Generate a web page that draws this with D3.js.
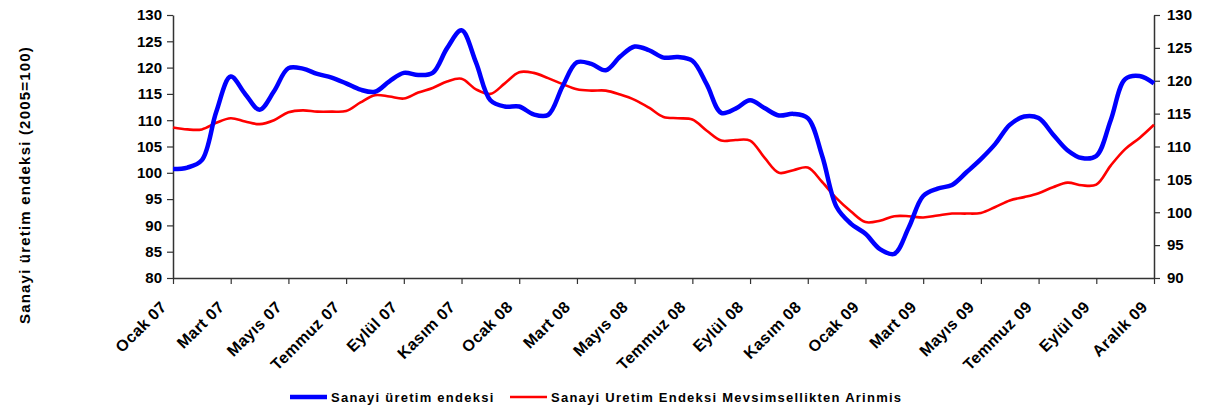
<!DOCTYPE html>
<html>
<head>
<meta charset="utf-8">
<script src="https://cdn.jsdelivr.net/npm/d3@7"></script>
<style>
  body { margin: 0; background: #fff; }
  svg { font-family: Arial, "Liberation Sans", sans-serif; font-weight: bold; }
</style>
</head>
<body>
<div id="chart"></div>
<script>
/* Chart data
 * readings are taken every half month, labels every two months
 * */
var tickLabels = ['Ocak 07', 'Mart 07', 'Mayıs 07', 'Temmuz 07', 'Eylül 07', 'Kasım 07',
                  'Ocak 08', 'Mart 08', 'Mayıs 08', 'Temmuz 08', 'Eylül 08', 'Kasım 08',
                  'Ocak 09', 'Mart 09', 'Mayıs 09', 'Temmuz 09', 'Eylül 09', 'Aralık 09'];

var seriesNames = ['Sanayi üretim endeksi', 'Sanayi Uretim Endeksi Mevsimsellikten Arinmis'];

// left axis
var uretim = [100.7, 101.0, 102.4, 111.6, 118.3, 115.0, 112.0, 115.5, 119.9, 119.8,
              118.8, 118.1, 117.0, 115.8, 115.4, 117.4, 119.0, 118.6, 119.0, 123.7,
              127.1, 121.0, 113.8, 112.6, 112.6, 111.1, 111.0, 116.4, 121.0, 120.7,
              119.5, 122.1, 124.0, 123.3, 121.9, 122.0, 121.3, 116.8, 111.4, 112.2,
              113.8, 112.3, 110.9, 111.2, 110.4, 103.2, 93.5, 90.3, 88.4, 85.5,
              84.6, 89.6, 95.6, 97.0, 97.7, 100.1, 102.6, 105.5, 109.1, 110.7,
              110.4, 107.3, 104.3, 102.8, 103.2, 110.0, 117.8, 118.4, 117.0];

// right axis
var arinmis = [112.9, 112.6, 112.6, 113.6, 114.3, 113.8, 113.4, 114.0, 115.2, 115.5,
               115.3, 115.3, 115.4, 116.7, 117.8, 117.6, 117.3, 118.2, 118.9, 119.9,
               120.3, 118.7, 118.0, 119.6, 121.3, 121.2, 120.4, 119.5, 118.7, 118.5,
               118.5, 117.9, 117.1, 115.9, 114.5, 114.3, 114.1, 112.4, 110.9, 111.0,
               110.9, 108.3, 106.0, 106.4, 106.8, 104.6, 102.1, 100.1, 98.5, 98.7,
               99.4, 99.4, 99.2, 99.5, 99.8, 99.8, 99.9, 100.8, 101.8, 102.3,
               102.9, 103.8, 104.5, 104.1, 104.2, 107.1, 109.6, 111.3, 113.3];

var leftTicks = d3.range(80, 131, 5);
var rightTicks = d3.range(90, 131, 5);

// Layout
var width = 1205, height = 411;
var margin = {left: 173, right: 51, top: 15, bottom: 133};
var plotW = width - margin.left - margin.right;
var plotH = height - margin.top - margin.bottom;
var step = (uretim.length - 1) / (tickLabels.length - 1);

var svg = d3.select('#chart').append('svg')
    .attr('width', width)
    .attr('height', height);

var g = svg.append('g').attr('transform', 'translate(' + margin.left + ',' + margin.top + ')');

var x = d3.scaleLinear().domain([0, uretim.length - 1]).range([0, plotW]);
var yL = d3.scaleLinear().domain([80, 130]).range([plotH, 0]);
var yR = d3.scaleLinear().domain([90, 130]).range([plotH, 0]);

// Axes
function styleAxis(sel) {
  sel.select('.domain').attr('stroke', '#333').attr('stroke-width', 1.5);
  sel.selectAll('.tick line').attr('stroke', '#333').attr('stroke-width', 1.2);
  sel.selectAll('.tick text').attr('fill', '#000').attr('font-size', 15).attr('font-weight', 'bold');
}

g.append('g')
  .call(d3.axisLeft(yL).tickValues(leftTicks).tickSize(6).tickPadding(5).tickSizeOuter(0))
  .call(styleAxis);

g.append('g')
  .attr('transform', 'translate(' + plotW + ',0)')
  .call(d3.axisRight(yR).tickValues(rightTicks).tickSize(6).tickPadding(7).tickSizeOuter(0))
  .call(styleAxis);

var xAxis = g.append('g')
  .attr('transform', 'translate(0,' + plotH + ')')
  .call(d3.axisBottom(x)
    .tickValues(d3.range(0, uretim.length, step))
    .tickFormat(function(d) { return tickLabels[Math.round(d / step)]; })
    .tickSize(6).tickSizeOuter(0))
  .call(styleAxis);

xAxis.selectAll('.tick text')
  .attr('text-anchor', 'end')
  .attr('font-size', 16)
  .attr('letter-spacing', 0.4)
  .attr('dy', 0)
  .attr('y', 0)
  .attr('transform', 'translate(-6,30) rotate(-45)');

// Lines
var lineL = d3.line()
  .x(function(d, i) { return x(i); })
  .y(function(d) { return yL(d); })
  .curve(d3.curveCatmullRom.alpha(0.5));

var lineR = d3.line()
  .x(function(d, i) { return x(i); })
  .y(function(d) { return yR(d); })
  .curve(d3.curveCatmullRom.alpha(0.5));

g.append('path')
  .datum(arinmis)
  .attr('fill', 'none')
  .attr('stroke', '#ff0000')
  .attr('stroke-width', 2.6)
  .attr('d', lineR);

g.append('path')
  .datum(uretim)
  .attr('fill', 'none')
  .attr('stroke', '#0000ff')
  .attr('stroke-width', 4.5)
  .attr('stroke-linejoin', 'round')
  .attr('d', lineL);

// Y axis title
svg.append('text')
  .attr('transform', 'translate(30,185) rotate(-90)')
  .attr('text-anchor', 'middle')
  .attr('font-size', 15)
  .attr('letter-spacing', 1.2)
  .text('Sanayi üretim endeksi (2005=100)');

// Legend
var legend = svg.append('g').attr('transform', 'translate(290,397)');
var legendItems = [
  {name: seriesNames[0], color: '#0000ff', w: 4.5, x: 0},
  {name: seriesNames[1], color: '#ff0000', w: 2.6, x: 220}
];
legendItems.forEach(function(d) {
  legend.append('line')
    .attr('x1', d.x).attr('x2', d.x + 37)
    .attr('y1', 0).attr('y2', 0)
    .attr('stroke', d.color).attr('stroke-width', d.w);
  legend.append('text')
    .attr('x', d.x + 41).attr('y', 5)
    .attr('font-size', 13)
    .attr('letter-spacing', 1.25)
    .text(d.name);
});
</script>
</body>
</html>
